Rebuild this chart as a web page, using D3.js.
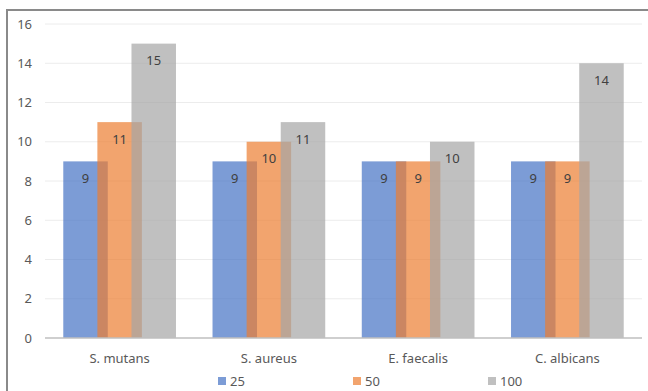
<!DOCTYPE html>
<html><head><meta charset="utf-8">
<script src="https://cdn.jsdelivr.net/npm/d3@7"></script>
<style>body{margin:0;background:#fff;}svg{display:block;font-family:"Noto Sans","Open Sans",sans-serif;}</style>
</head><body><svg id="c" width="648" height="391"></svg>
<script>
const categories = ["S. mutans", "S. aureus", "E. faecalis", "C. albicans"];
const seriesNames = ["25", "50", "100"];
const s25 = [9, 9, 9, 9];
const s50 = [11, 10, 9, 9];
const s100 = [15, 11, 10, 14];
const yTicks = [0, 2, 4, 6, 8, 10, 12, 14, 16];
const colors = ["#4472C4", "#ED7D31", "#A5A5A5"];
const series = [s25, s50, s100];

const svg = d3.select("#c");
const pLeft = 45, pRight = 642, pTop = 24, pBottom = 338;
const x = d3.scaleBand().domain(categories).range([pLeft, pRight]);
const y = d3.scaleLinear().domain([0, 16]).range([pBottom, pTop]);

// frame
svg.append("path").attr("d", `M7,400 V10 H660`).attr("fill", "none").attr("stroke", "#8a8a8a").attr("stroke-width", 2);

// grid
svg.append("g").selectAll("line").data(yTicks.filter(d => d > 0)).join("line")
  .attr("x1", pLeft).attr("x2", pRight).attr("y1", d => y(d)).attr("y2", d => y(d))
  .attr("stroke", "#ececec").attr("stroke-width", 1);

// y tick labels
svg.append("g").selectAll("text").data(yTicks).join("text")
  .attr("x", 32).attr("y", d => y(d)).attr("dy", "0.35em").attr("text-anchor", "end")
  .attr("font-size", 13).attr("fill", "#595959").text(d => d);

const bw = 44.5, step = 34.1;
const span = bw + 2 * step;
series.forEach((vals, si) => {
  const g = svg.append("g");
  g.selectAll("rect").data(vals).join("rect")
    .attr("x", (d, i) => x(categories[i]) + x.bandwidth() / 2 - span / 2 + si * step)
    .attr("width", bw)
    .attr("y", d => y(d)).attr("height", d => pBottom - y(d))
    .attr("fill", colors[si]).attr("fill-opacity", 0.7);
});
series.forEach((vals, si) => {
  svg.append("g").selectAll("text").data(vals).join("text")
    .attr("x", (d, i) => x(categories[i]) + x.bandwidth() / 2 - span / 2 + si * step + bw / 2)
    .attr("y", d => y(d) + 17).attr("dy", "0.35em").attr("text-anchor", "middle")
    .attr("font-size", 13).attr("fill", "#404040").text(d => d);
});

// axis line
svg.append("line").attr("x1", pLeft).attr("x2", pRight).attr("y1", pBottom).attr("y2", pBottom)
  .attr("stroke", "#bfbfbf").attr("stroke-width", 1.5);

// x labels
svg.append("g").selectAll("text").data(categories).join("text")
  .attr("x", d => x(d) + x.bandwidth() / 2).attr("y", 358).attr("dy", "0.35em")
  .attr("text-anchor", "middle").attr("font-size", 13).attr("fill", "#595959").text(d => d);

// legend
const lx = [218, 353, 488];
const leg = svg.append("g").selectAll("g").data(seriesNames).join("g")
  .attr("transform", (d, i) => `translate(${lx[i]},381)`);
leg.append("rect").attr("x", 0).attr("y", -4).attr("width", 8).attr("height", 8)
  .attr("fill", (d, i) => colors[i]).attr("fill-opacity", 0.7);
leg.append("text").attr("x", 12).attr("y", 0).attr("dy", "0.35em")
  .attr("font-size", 13).attr("fill", "#595959").text(d => d);
</script></body></html>
